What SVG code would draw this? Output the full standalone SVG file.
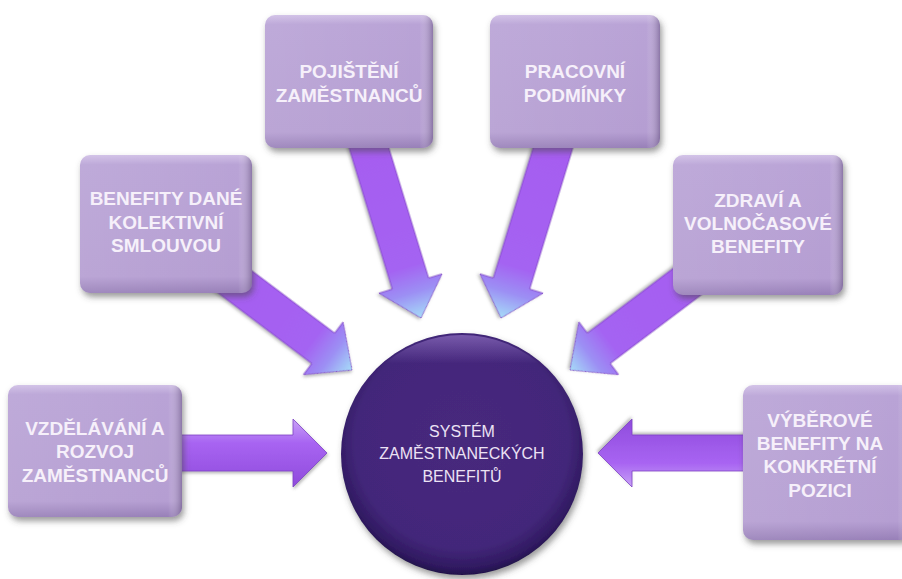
<svg xmlns="http://www.w3.org/2000/svg" width="902" height="579" viewBox="0 0 902 579">
<defs>
  <linearGradient id="boxGrad" x1="0" y1="0" x2="0" y2="1">
    <stop offset="0" stop-color="#d0bfe6"/>
    <stop offset="0.07" stop-color="#b9a3d6"/>
    <stop offset="0.88" stop-color="#b59ed2"/>
    <stop offset="1" stop-color="#9880b8"/>
  </linearGradient>
  <linearGradient id="boxEdge" x1="0" y1="0" x2="1" y2="0">
    <stop offset="0" stop-color="#ffffff" stop-opacity="0.08"/>
    <stop offset="0.92" stop-color="#ffffff" stop-opacity="0"/>
    <stop offset="1" stop-color="#5e4a78" stop-opacity="0.5"/>
  </linearGradient>
  <linearGradient id="arrowH" x1="0" y1="0" x2="0" y2="1">
    <stop offset="0" stop-color="#c8a2f6"/>
    <stop offset="0.35" stop-color="#a864f2"/>
    <stop offset="1" stop-color="#8f4bdc"/>
  </linearGradient>
  <linearGradient id="arrowD" x1="0" y1="0" x2="1" y2="0">
    <stop offset="0" stop-color="#a65cf0"/>
    <stop offset="0.72" stop-color="#a463f2"/>
    <stop offset="0.86" stop-color="#9c8ff4"/>
    <stop offset="1" stop-color="#a6dcf8"/>
  </linearGradient>
  <radialGradient id="circGrad" cx="0.5" cy="0.45" r="0.55">
    <stop offset="0" stop-color="#47297d"/>
    <stop offset="0.8" stop-color="#43277a"/>
    <stop offset="0.95" stop-color="#2f1960"/>
    <stop offset="1" stop-color="#22104a"/>
  </radialGradient>
  <linearGradient id="circHi" x1="0" y1="0" x2="0" y2="1">
    <stop offset="0" stop-color="#8f70c0" stop-opacity="0.7"/>
    <stop offset="0.12" stop-color="#8f70c0" stop-opacity="0"/>
    <stop offset="1" stop-color="#8f70c0" stop-opacity="0"/>
  </linearGradient>
  <filter id="shadow" x="-20%" y="-20%" width="140%" height="140%">
    <feDropShadow dx="2" dy="4" stdDeviation="3" flood-color="#4a4a4a" flood-opacity="0.55"/>
  </filter>
  <filter id="ashadow" x="-20%" y="-20%" width="140%" height="140%">
    <feDropShadow dx="1" dy="2" stdDeviation="1.5" flood-color="#555" flood-opacity="0.4"/>
  </filter>
</defs>
<style>
  .box { fill: url(#boxGrad); filter: url(#shadow); }
  .boxhi { fill: url(#boxEdge); }
  .lbl { font-family: "Liberation Sans", Arial, sans-serif; font-weight: bold; font-size: 19px; fill: #f6f0fa; text-anchor: middle; }
  .clbl { font-family: "Liberation Sans", Arial, sans-serif; font-size: 16px; fill: #ece2f4; text-anchor: middle; }
  .arrH { fill: url(#arrowH); stroke: #7d42c4; stroke-width: 0.8; filter: url(#ashadow); }
  .arrD { fill: url(#arrowD); stroke: #7d42c4; stroke-width: 0.8; filter: url(#ashadow); }
</style>
<rect width="902" height="579" fill="#ffffff"/>

<g id="connectors">
  <path class="arrH" transform="translate(327,453)" d="M0 0 L-34 -34 L-34 -18 L-152 -18 L-152 18 L-34 18 L-34 34 Z"/>
  <path class="arrH" transform="translate(598,453) rotate(180)" d="M0 0 L-34 -34 L-34 -18 L-152 -18 L-152 18 L-34 18 L-34 34 Z"/>
  <path class="arrD" transform="translate(421,318) rotate(73)" d="M0 0 L-36 -33 L-36 -19 L-190 -19 L-190 19 L-36 19 L-36 33 Z"/>
  <path class="arrD" transform="translate(501,318) rotate(107)" d="M0 0 L-36 -33 L-36 -19 L-190 -19 L-190 19 L-36 19 L-36 33 Z"/>
  <path class="arrD" transform="translate(352,370) rotate(37)" d="M0 0 L-36 -33 L-36 -19 L-175 -19 L-175 19 L-36 19 L-36 33 Z"/>
  <path class="arrD" transform="translate(570,370) rotate(143)" d="M0 0 L-36 -33 L-36 -19 L-175 -19 L-175 19 L-36 19 L-36 33 Z"/>
</g>

<g id="node-pojisteni">
  <rect class="box" x="265" y="15" width="168" height="133" rx="10"/>
  <rect class="boxhi" x="265" y="15" width="168" height="133" rx="10"/>
  <text class="lbl" x="349" y="78">POJIŠTĚNÍ</text>
  <text class="lbl" x="349" y="102">ZAMĚSTNANCŮ</text>
</g>

<g id="node-pracovni">
  <rect class="box" x="490" y="15" width="170" height="133" rx="10"/>
  <rect class="boxhi" x="490" y="15" width="170" height="133" rx="10"/>
  <text class="lbl" x="575" y="78">PRACOVNÍ</text>
  <text class="lbl" x="575" y="102">PODMÍNKY</text>
</g>

<g id="node-kolektivni">
  <rect class="box" x="80" y="155" width="172" height="138" rx="10"/>
  <rect class="boxhi" x="80" y="155" width="172" height="138" rx="10"/>
  <text class="lbl" x="166" y="205">BENEFITY DANÉ</text>
  <text class="lbl" x="166" y="228.5">KOLEKTIVNÍ</text>
  <text class="lbl" x="166" y="252">SMLOUVOU</text>
</g>

<g id="node-zdravi">
  <rect class="box" x="673" y="155" width="170" height="140" rx="10"/>
  <rect class="boxhi" x="673" y="155" width="170" height="140" rx="10"/>
  <text class="lbl" x="758" y="207">ZDRAVÍ A</text>
  <text class="lbl" x="758" y="230">VOLNOČASOVÉ</text>
  <text class="lbl" x="758" y="253">BENEFITY</text>
</g>

<g id="node-vzdelavani">
  <rect class="box" x="8" y="385" width="174" height="132" rx="10"/>
  <rect class="boxhi" x="8" y="385" width="174" height="132" rx="10"/>
  <text class="lbl" x="95" y="435">VZDĚLÁVÁNÍ A</text>
  <text class="lbl" x="95" y="458">ROZVOJ</text>
  <text class="lbl" x="95" y="482">ZAMĚSTNANCŮ</text>
</g>

<g id="node-vyberove">
  <rect class="box" x="743" y="385" width="168" height="155" rx="10"/>
  <rect class="boxhi" x="743" y="385" width="168" height="155" rx="10"/>
  <text class="lbl" x="820" y="427">VÝBĚROVÉ</text>
  <text class="lbl" x="820" y="450">BENEFITY NA</text>
  <text class="lbl" x="820" y="473">KONKRÉTNÍ</text>
  <text class="lbl" x="820" y="497">POZICI</text>
</g>

<g id="node-system">
  <circle cx="462" cy="454" r="121" fill="url(#circGrad)" filter="url(#shadow)"/>
  <circle cx="462" cy="454" r="119" fill="url(#circHi)"/>
  <text class="clbl" x="462" y="437">SYSTÉM</text>
  <text class="clbl" x="462" y="459">ZAMĚSTNANECKÝCH</text>
  <text class="clbl" x="462" y="482">BENEFITŮ</text>
</g>
</svg>
